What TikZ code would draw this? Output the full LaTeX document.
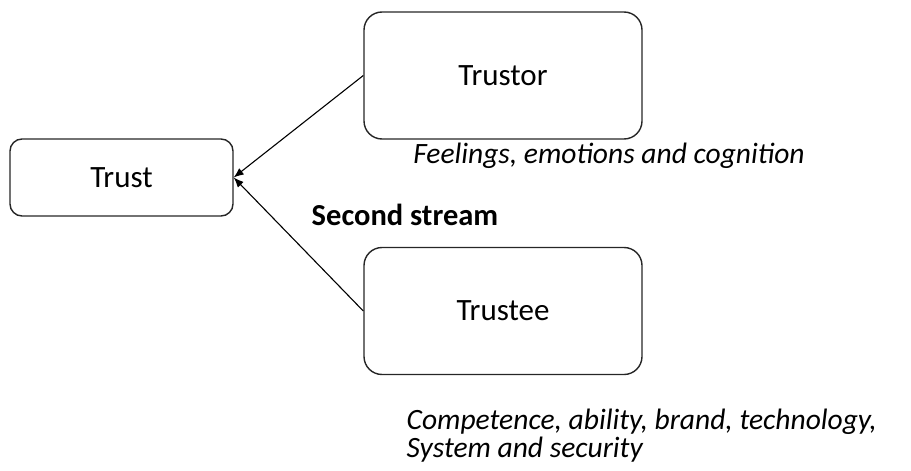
\documentclass[tikz,border=0pt]{standalone}
\usepackage{fontspec}
\setmainfont{Carlito}
\usepackage{tikz}
\usetikzlibrary{positioning}
\usetikzlibrary{arrows.meta}
\tikzset{edge/.style = {->,> = {Latex[length=10pt,width=8pt]}}}

\begin{document}
\begin{tikzpicture}[auto,node distance=235.5pt,line width=1.4pt,
    main node/.style={rectangle,rounded corners=18pt,draw=black!85,font=\fontsize{31}{34}\selectfont,minimum width=278pt,minimum height=127pt},
    note/.style={font=\fontsize{29.5}{28}\selectfont\itshape}]
                \useasboundingbox (0,0) rectangle (911pt,-471pt);
                \node[main node,minimum width=223pt,minimum height=77pt,rounded corners=12pt] (trust) at (121.5pt,-177.5pt) {Trust};
                \node[main node] (trustor) at (503pt,-75.5pt) {Trustor};
                \node[main node] (trustee) [below of=trustor] {Trustee};

                \node[note] (feel) at (609pt,-156pt) {Feelings, emotions and cognition};
                \node[font=\fontsize{30.5}{34}\selectfont\bfseries] (second) at (405pt,-215pt) {Second stream};
                \node[note,align=left,anchor=north west,inner sep=0pt] (comp) at (406pt,-408pt) {Competence, ability, brand, technology,\\System and security};

                \path[edge,line width=1.1pt]
                    (trustor.west) edge (trust.east)
                    (trustee.west) edge (trust.east)
                    ;
            \end{tikzpicture}
\end{document}
